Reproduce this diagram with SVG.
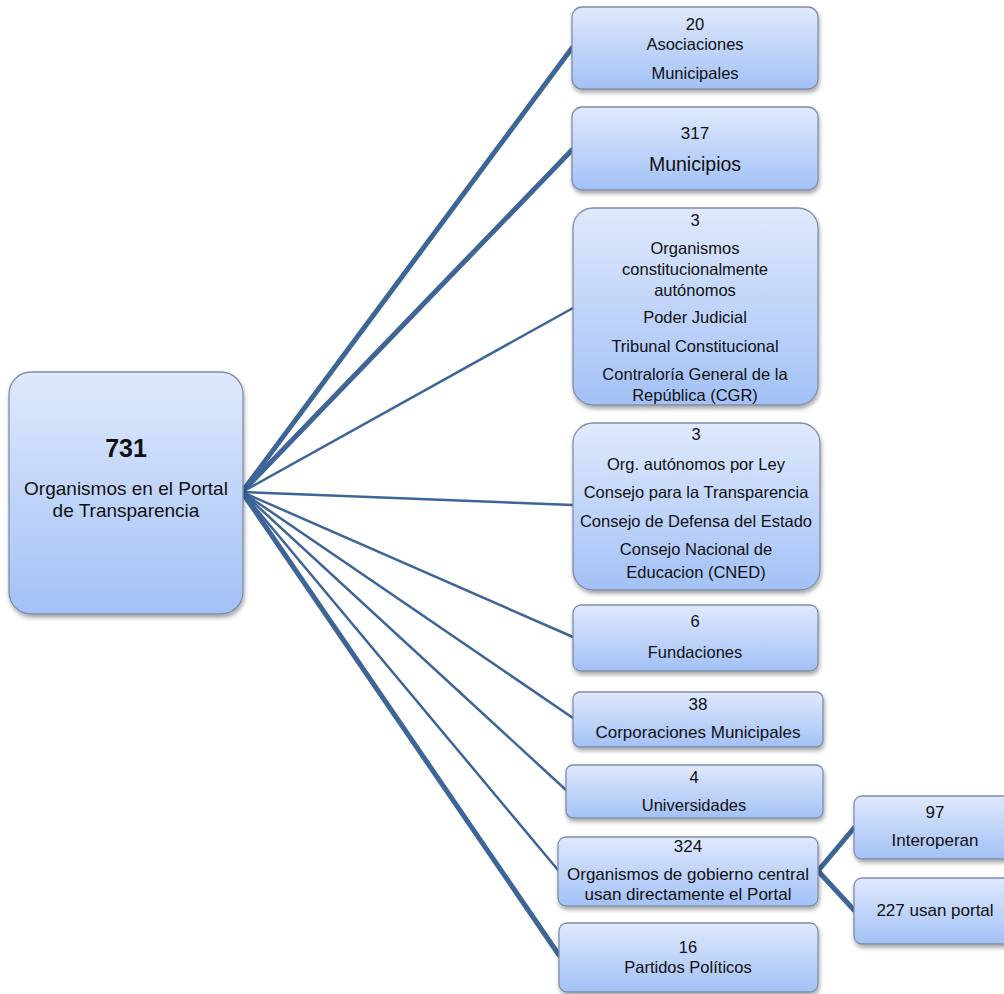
<svg xmlns="http://www.w3.org/2000/svg" width="1004" height="994" viewBox="0 0 1004 994">
<defs>
<linearGradient id="g" x1="0" y1="0" x2="0" y2="1">
<stop offset="0" stop-color="#dfe9fc"/>
<stop offset="1" stop-color="#a3c1f6"/>
</linearGradient>
<filter id="sh" x="-10%" y="-10%" width="125%" height="130%">
<feDropShadow dx="1" dy="3" stdDeviation="2" flood-color="#000" flood-opacity="0.35"/>
</filter>
<style>
.b{fill:url(#g);stroke:#7f8ea8;stroke-width:1.3;filter:url(#sh)}
text{font-family:"Liberation Sans",Arial,sans-serif;font-size:16.5px;fill:#111;text-anchor:middle}
.l{font-size:17px}
.c{fill:none;stroke:#3d6598;stroke-linecap:round}
.t{stroke-width:5}
.n{stroke-width:2.5}
</style>
</defs>
<g id="connectors">
<line class="c t" x1="242" y1="492" x2="572" y2="48"/>
<line class="c t" x1="242" y1="492" x2="572" y2="150"/>
<line class="c n" x1="242" y1="492" x2="573" y2="308"/>
<line class="c n" x1="242" y1="492" x2="573" y2="505"/>
<line class="c n" x1="242" y1="492" x2="573" y2="637"/>
<line class="c n" x1="242" y1="492" x2="573" y2="718"/>
<line class="c n" x1="242" y1="492" x2="566" y2="790"/>
<line class="c n" x1="242" y1="492" x2="558" y2="870"/>
<line class="c t" x1="242" y1="492" x2="559" y2="955"/>
<polyline class="c t" points="854,828 818,871 854,910"/>
</g>
<g id="root">
<rect class="b" x="9" y="372" width="234" height="242" rx="22"/>
<text x="126" y="457" style="font-size:25px;font-weight:bold">731</text>
<text x="126" y="495" style="font-size:19px">Organismos en el Portal</text>
<text x="126" y="517" style="font-size:19px">de Transparencia</text>
</g>
<g id="asociaciones">
<rect class="b" x="572" y="7" width="246" height="82" rx="10"/>
<text x="695" y="30">20</text>
<text x="695" y="50">Asociaciones</text>
<text x="695" y="79">Municipales</text>
</g>
<g id="municipios">
<rect class="b" x="572" y="107" width="246" height="83" rx="10"/>
<text x="695" y="139" style="font-size:17px">317</text>
<text x="695" y="171" style="font-size:19.5px">Municipios</text>
</g>
<g id="constitucionales">
<rect class="b" x="573" y="208" width="245" height="197" rx="20"/>
<text x="695" y="226">3</text>
<text x="695" y="254">Organismos</text>
<text x="695" y="275">constitucionalmente</text>
<text x="695" y="296">autónomos</text>
<text x="695" y="323">Poder Judicial</text>
<text x="695" y="352">Tribunal Constitucional</text>
<text x="695" y="380">Contraloría General de la</text>
<text x="695" y="401">República (CGR)</text>
</g>
<g id="autonomos">
<rect class="b" x="573" y="423" width="247" height="167" rx="20"/>
<text x="696" y="440">3</text>
<text x="696" y="470">Org. autónomos por Ley</text>
<text x="696" y="498">Consejo para la Transparencia</text>
<text x="696" y="527">Consejo de Defensa del Estado</text>
<text x="696" y="555">Consejo Nacional de</text>
<text x="696" y="578">Educacion (CNED)</text>
</g>
<g id="fundaciones">
<rect class="b" x="573" y="605" width="245" height="66" rx="8"/>
<text x="695" y="627">6</text>
<text x="695" y="658">Fundaciones</text>
</g>
<g id="corporaciones">
<rect class="b" x="573" y="692" width="250" height="55" rx="7"/>
<text class="l" x="698" y="710">38</text>
<text class="l" x="698" y="738">Corporaciones Municipales</text>
</g>
<g id="universidades">
<rect class="b" x="566" y="765" width="257" height="53" rx="7"/>
<text x="694" y="783">4</text>
<text x="694" y="811">Universidades</text>
</g>
<g id="gobierno">
<rect class="b" x="558" y="837" width="260" height="69" rx="8"/>
<text class="l" x="688" y="852">324</text>
<text class="l" x="688" y="880">Organismos de gobierno central</text>
<text class="l" x="688" y="900">usan directamente el Portal</text>
</g>
<g id="partidos">
<rect class="b" x="559" y="923" width="259" height="69" rx="8"/>
<text x="688" y="953">16</text>
<text x="688" y="973">Partidos Políticos</text>
</g>
<g id="interoperan">
<rect class="b" x="854" y="796" width="164" height="63" rx="8"/>
<text class="l" x="935" y="818">97</text>
<text class="l" x="935" y="846">Interoperan</text>
</g>
<g id="usanportal">
<rect class="b" x="854" y="878" width="164" height="66" rx="8"/>
<text class="l" x="935" y="916">227 usan portal</text>
</g>
</svg>
